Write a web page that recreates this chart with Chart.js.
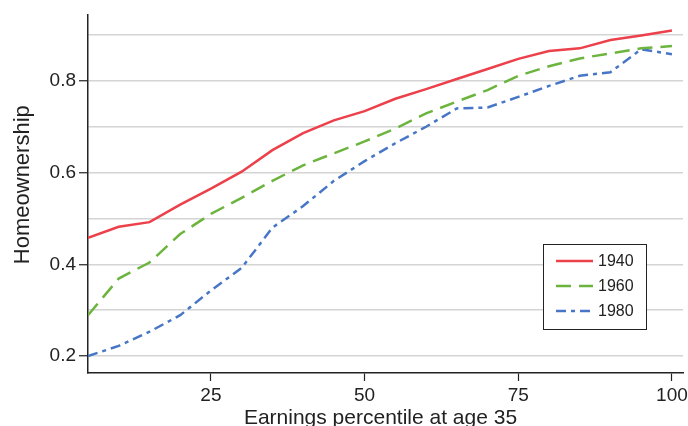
<!DOCTYPE html>
<html>
<head>
<meta charset="utf-8">
<script src="https://cdn.jsdelivr.net/npm/chart.js@4"></script>
<style>
  html, body { margin: 0; padding: 0; background: #fff; }
  #wrap { width: 688px; height: 426px; }
</style>
</head>
<body>
<div id="wrap"><canvas id="chart"></canvas></div>
<script>
// earnings percentile at age 35
var percentiles = [5, 10, 15, 20, 25, 30, 35, 40, 45, 50, 55, 60, 65, 70, 75, 80, 85, 90, 95, 100];

// homeownership by birth cohort
var cohort1940 = [0.458, 0.482, 0.492, 0.530, 0.565, 0.602, 0.649, 0.686, 0.714, 0.734, 0.761, 0.782, 0.804, 0.826, 0.848, 0.865, 0.871, 0.889, 0.899, 0.910];
var cohort1960 = [0.289, 0.369, 0.404, 0.466, 0.510, 0.545, 0.582, 0.616, 0.642, 0.668, 0.696, 0.729, 0.755, 0.780, 0.811, 0.832, 0.849, 0.860, 0.871, 0.876];
var cohort1980 = [0.200, 0.222, 0.253, 0.289, 0.343, 0.392, 0.480, 0.527, 0.582, 0.625, 0.664, 0.700, 0.740, 0.742, 0.765, 0.789, 0.811, 0.819, 0.869, 0.858];

var xTicks = [25, 50, 75, 100];
var yTicks = [0.2, 0.3, 0.4, 0.5, 0.6, 0.7, 0.8, 0.9];
var yLabelled = [0.2, 0.4, 0.6, 0.8];

var xTitle = "Earnings percentile at age 35";
var yTitle = "Homeownership";

function toPoints(values)
{
    return values.map(function(v, i) { return {x: percentiles[i], y: v}; });
}

function isLabelled(value)
{
    return yLabelled.some(function(v) { return Math.abs(v - value) < 1e-6; });
}

var FONT = "'Liberation Sans', Arial, Helvetica, sans-serif";

// axis titles and the boxed legend, drawn by hand so they sit where the original has them
var decorations = {
    id: "decorations",
    afterDraw: function(chart)
    {
        var ctx = chart.ctx;
        var area = chart.chartArea;
        var midX = (area.left + area.right) / 2;
        var midY = (area.top + area.bottom) / 2;

        ctx.save();
        ctx.fillStyle = "#222";
        ctx.font = "21px " + FONT;
        ctx.textAlign = "center";
        ctx.textBaseline = "alphabetic";
        ctx.fillText(xTitle, midX - 5, chart.height - 2);

        ctx.translate(29, midY - 9);
        ctx.rotate(-Math.PI / 2);
        ctx.font = "22px " + FONT;
        ctx.fillText(yTitle, 0, 0);
        ctx.restore();

        var left = area.right - 140, top = area.bottom - 129;
        var w = 103, h = 85;
        ctx.save();
        ctx.fillStyle = "#fff";
        ctx.fillRect(left, top, w, h);
        ctx.strokeStyle = "#222";
        ctx.lineWidth = 1;
        ctx.strokeRect(left + 0.5, top + 0.5, w, h);
        ctx.font = "16px " + FONT;
        ctx.textBaseline = "middle";
        chart.data.datasets.forEach(function(ds, i)
        {
            var y = top + 17 + i * 25;
            ctx.beginPath();
            ctx.strokeStyle = ds.borderColor;
            ctx.lineWidth = ds.borderWidth;
            ctx.setLineDash(ds.borderDash || []);
            ctx.moveTo(left + 13, y);
            ctx.lineTo(left + 50, y);
            ctx.stroke();
            ctx.setLineDash([]);
            ctx.fillStyle = "#222";
            ctx.fillText(ds.label, left + 55, y + 1);
        });
        ctx.restore();
    }
};

new Chart(document.getElementById("chart"), {
    type: "line",
    data: {
        datasets: [
            {
                label: "1940",
                data: toPoints(cohort1940),
                borderColor: "rgb(236, 64, 74)",
                borderWidth: 2.5,
                pointRadius: 0,
                fill: false
            },
            {
                label: "1960",
                data: toPoints(cohort1960),
                borderColor: "rgb(108, 180, 62)",
                borderWidth: 2.5,
                borderDash: [15, 8],
                pointRadius: 0,
                fill: false
            },
            {
                label: "1980",
                data: toPoints(cohort1980),
                borderColor: "rgb(72, 118, 198)",
                borderWidth: 2.5,
                borderDash: [10, 5, 4, 5],
                pointRadius: 0,
                fill: false
            }
        ]
    },
    options: {
        responsive: true,
        maintainAspectRatio: false,
        animation: false,
        layout: { padding: { top: 12, right: 0, left: 0, bottom: 0 } },
        plugins: {
            legend: { display: false },
            tooltip: { enabled: false }
        },
        scales: {
            x: {
                type: "linear",
                min: 5,
                max: 101.8,
                afterBuildTicks: function(axis) { axis.ticks = xTicks.map(function(v) { return {value: v}; }); },
                afterFit: function(axis)
                {
                    axis.height = 53;
                    axis.paddingLeft = 0;
                    axis.paddingRight = 5;
                },
                grid: { drawOnChartArea: false, drawTicks: true, tickLength: 8, tickColor: "#222", tickWidth: 1.2 },
                border: { color: "#222", width: 1.5 },
                ticks: { color: "#222", font: { family: FONT, size: 19 }, padding: 3, maxRotation: 0 }
            },
            y: {
                min: 0.163,
                max: 0.945,
                afterBuildTicks: function(axis) { axis.ticks = yTicks.map(function(v) { return {value: v}; }); },
                afterFit: function(axis) { axis.width = 88; },
                grid: {
                    color: "#d4d4d4",
                    lineWidth: 1.5,
                    tickLength: 9,
                    tickWidth: 1.2,
                    tickColor: function(c) { return isLabelled(c.tick.value) ? "#222" : "rgba(0,0,0,0)"; }
                },
                border: { color: "#222", width: 1.5 },
                ticks: {
                    color: "#222",
                    font: { family: FONT, size: 19 },
                    padding: 3,
                    callback: function(v) { return isLabelled(v) ? v.toFixed(1) : ""; }
                }
            }
        }
    },
    plugins: [decorations]
});
</script>
</body>
</html>
